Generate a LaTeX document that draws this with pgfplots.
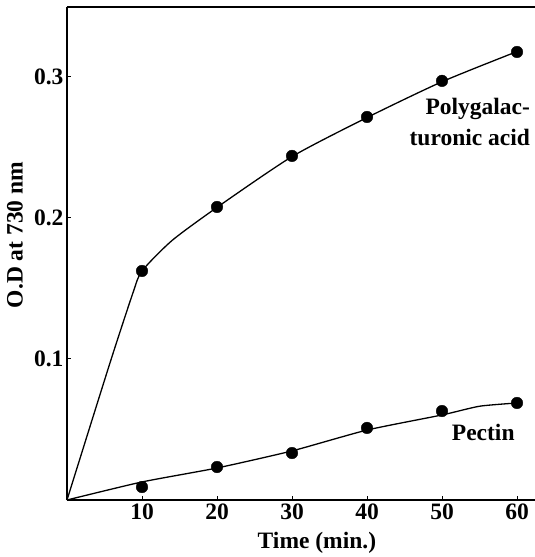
\documentclass[border=0pt]{standalone}
\usepackage{pgfplots}
\pgfplotsset{compat=1.18}
\usepackage{fontspec}
\setmainfont{Liberation Serif}

\newcommand{\labfont}{\fontsize{23.5}{28}\selectfont\bfseries}

\begin{document}
\begin{tikzpicture}
\begin{axis}[
  scale only axis,
  width=468pt, height=493pt,
  xmin=0, xmax=62.4,
  ymin=0, ymax=0.3496,
  axis x line*=box,
  axis y line*=left,
  axis line style={line width=1.3pt},
  xtick={10,20,30,40,50,60},
  ytick={0.1,0.2,0.3},
  xtick pos=bottom,
  ytick pos=left,
  tick align=inside,
  major tick length=4pt,
  tick style={line width=1pt, black},
  /pgf/number format/assume math mode=true,
  yticklabel style={/pgf/number format/fixed, /pgf/number format/precision=1,
    /pgf/number format/fixed zerofill},
  ticklabel style={font=\labfont},
  xlabel={Time (min.)},
  ylabel={O.D at 730 nm},
  label style={font=\labfont},
  xlabel style={at={(rel axis cs:0.534,-0.0872)}, anchor=center},
  ylabel style={at={(rel axis cs:-0.111,0.5375)}, anchor=center},
  clip=false,
]
% fitted curves
\addplot[black, line width=1.3pt, smooth, tension=0.4] coordinates {
  (0,0) (5.73,0.0972) (8.8,0.147) (10,0.1624) (14,0.184)
  (20,0.2075) (30,0.2435) (40,0.2712) (50,0.2966) (60,0.318)
};
\addplot[black, line width=1.3pt, smooth, tension=0.35] coordinates {
  (0,0) (10,0.0128) (20,0.0227) (30,0.0348) (40,0.0496) (50,0.0603)
  (55,0.0665) (60,0.0688)
};
% measured points
\addplot[only marks, mark=*, mark size=5.8pt, black] coordinates {
  (10,0.1624) (20,0.2078) (30,0.244) (40,0.2716) (50,0.2972) (60,0.3177)
};
\addplot[only marks, mark=*, mark size=5.8pt, black] coordinates {
  (10,0.0092) (20,0.0234) (30,0.0333) (40,0.0511) (50,0.0631) (60,0.0688)
};
\node[anchor=east, align=right, font=\fontsize{23.5}{31}\selectfont\bfseries]
  at (axis cs:62.2,0.2677) {Polygalac-\\turonic acid};
\node[font=\labfont] at (axis cs:55.5,0.0482) {Pectin};
\end{axis}
\pgfresetboundingbox
\useasboundingbox (-67pt,-57pt) rectangle (468pt,500pt);
\end{tikzpicture}
\end{document}
